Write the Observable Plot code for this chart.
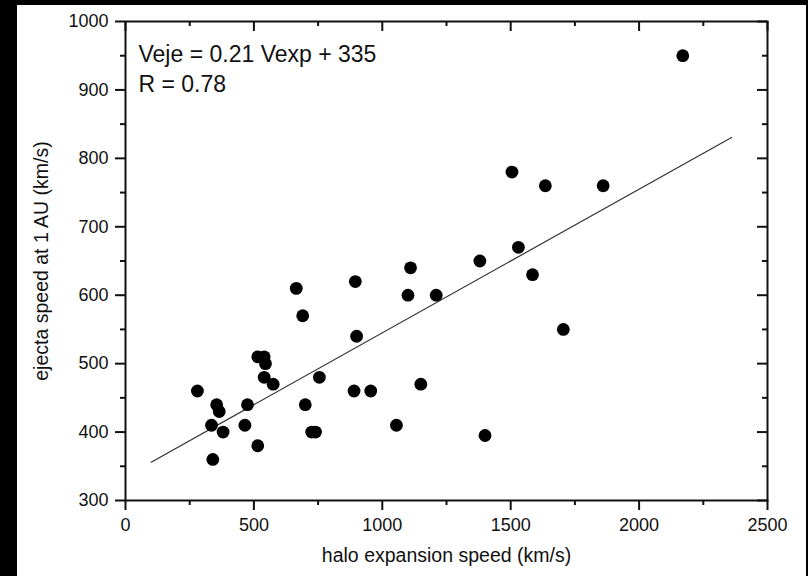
<!DOCTYPE html>
<html>
<head>
<meta charset="utf-8">
<script src="https://cdn.jsdelivr.net/npm/d3@7"></script>
<script src="https://cdn.jsdelivr.net/npm/@observablehq/plot@0.6"></script>
<style>
  html, body { margin: 0; padding: 0; background: #000; width: 808px; height: 576px; overflow: hidden; }
  #chart { position: absolute; left: 17px; top: 5px; width: 789px; height: 571px; background: #fff; }
</style>
</head>
<body>
<div id="chart"></div>
<script>
// Data
const haloSpeed   = [280, 335, 340, 355, 365, 380, 465, 475, 515, 515, 540, 545, 540, 575, 665, 690, 700, 725, 740, 755, 890, 895, 900, 955, 1055, 1100, 1110, 1150, 1210, 1380, 1400, 1505, 1530, 1585, 1635, 1705, 1860, 2170];
const ejectaSpeed = [460, 410, 360, 440, 430, 400, 410, 440, 380, 510, 510, 500, 480, 470, 610, 570, 440, 400, 400, 480, 460, 620, 540, 460, 410, 600, 640, 470, 600, 650, 395, 780, 670, 630, 760, 550, 760, 950];

const xMajorTicks = [0, 500, 1000, 1500, 2000, 2500];
const xMinorTicks = [250, 750, 1250, 1750, 2250];
const yMajorTicks = [300, 400, 500, 600, 700, 800, 900, 1000];
const yMinorTicks = [350, 450, 550, 650, 750, 850, 950];

const fitSlope = 0.21;
const fitIntercept = 335;
const fitRangeX = [100, 2360];

const annotationLines = ["Veje = 0.21 Vexp + 335\nR = 0.78"];
const xLabel = "halo expansion speed (km/s)";
const yLabel = "ejecta speed at 1 AU (km/s)";

const points = haloSpeed.map((x, i) => ({x, y: ejectaSpeed[i]}));
const fitLine = fitRangeX.map(x => ({x, y: fitSlope * x + fitIntercept}));

const ink = "#111";
const font = "'Liberation Sans', Arial, Helvetica, sans-serif";
const blank = () => "";
const plain = d => String(d);

const W = 789, H = 571, ML = 108, MR = 39, MT = 16, MB = 76;
const frameW = W - ML - MR, frameH = H - MT - MB;

const chart = Plot.plot({
  width: W,
  height: H,
  marginLeft: ML,
  marginRight: MR,
  marginTop: MT,
  marginBottom: MB,
  style: {fontFamily: font, fontSize: "18px", color: ink, background: "#fff", overflow: "visible"},
  x: {domain: [0, 2500], label: null},
  y: {domain: [300, 1000], label: null},
  marks: [
    Plot.line(fitLine, {x: "x", y: "y", stroke: "#333", strokeWidth: 1.2}),
    Plot.dot(points, {x: "x", y: "y", r: 6.4, fill: "#000", stroke: null}),
    // bottom axis: labels + outward ticks
    Plot.axisX({anchor: "bottom", ticks: xMajorTicks, tickSize: 10, tickPadding: 8, tickFormat: plain, strokeWidth: 2, fontSize: 18, fill: ink, label: null}),
    Plot.axisX({anchor: "bottom", ticks: xMinorTicks, tickSize: 5, tickFormat: blank, strokeWidth: 2, label: null}),
    // x axis title
    Plot.axisX({anchor: "bottom", ticks: [], tickSize: 0, tickFormat: blank, fontSize: 19.5, fill: ink,
      label: xLabel, labelAnchor: "center", labelOffset: 61, labelArrow: "none"}),
    // top edge: inward ticks
    Plot.tickX(xMajorTicks, {x: d => d, insetBottom: frameH - 10, stroke: ink, strokeWidth: 2}),
    Plot.tickX(xMinorTicks, {x: d => d, insetBottom: frameH - 5, stroke: ink, strokeWidth: 2}),
    // left axis: labels + outward ticks
    Plot.axisY({anchor: "left", ticks: yMajorTicks, tickSize: 10, tickPadding: 7, tickFormat: plain, strokeWidth: 2, fontSize: 18, fill: ink, label: null}),
    Plot.axisY({anchor: "left", ticks: yMinorTicks, tickSize: 5, tickFormat: blank, strokeWidth: 2, label: null}),
    // y axis title
    Plot.axisY({anchor: "left", ticks: [], tickSize: 0, tickFormat: blank, fontSize: 19.5, fill: ink,
      label: yLabel, labelAnchor: "center", labelOffset: 91, labelArrow: "none"}),
    // right edge: inward ticks
    Plot.tickY(yMajorTicks, {y: d => d, insetLeft: frameW - 10, stroke: ink, strokeWidth: 2}),
    Plot.tickY(yMinorTicks, {y: d => d, insetLeft: frameW - 5, stroke: ink, strokeWidth: 2}),
    Plot.frame({stroke: ink, strokeWidth: 2}),
    Plot.text(annotationLines, {frameAnchor: "top-left", dx: 13, dy: 19, lineAnchor: "top", textAnchor: "start",
      lineHeight: 1.3, fontSize: 23, fill: ink})
  ]
});
document.getElementById("chart").appendChild(chart);
</script>
</body>
</html>
